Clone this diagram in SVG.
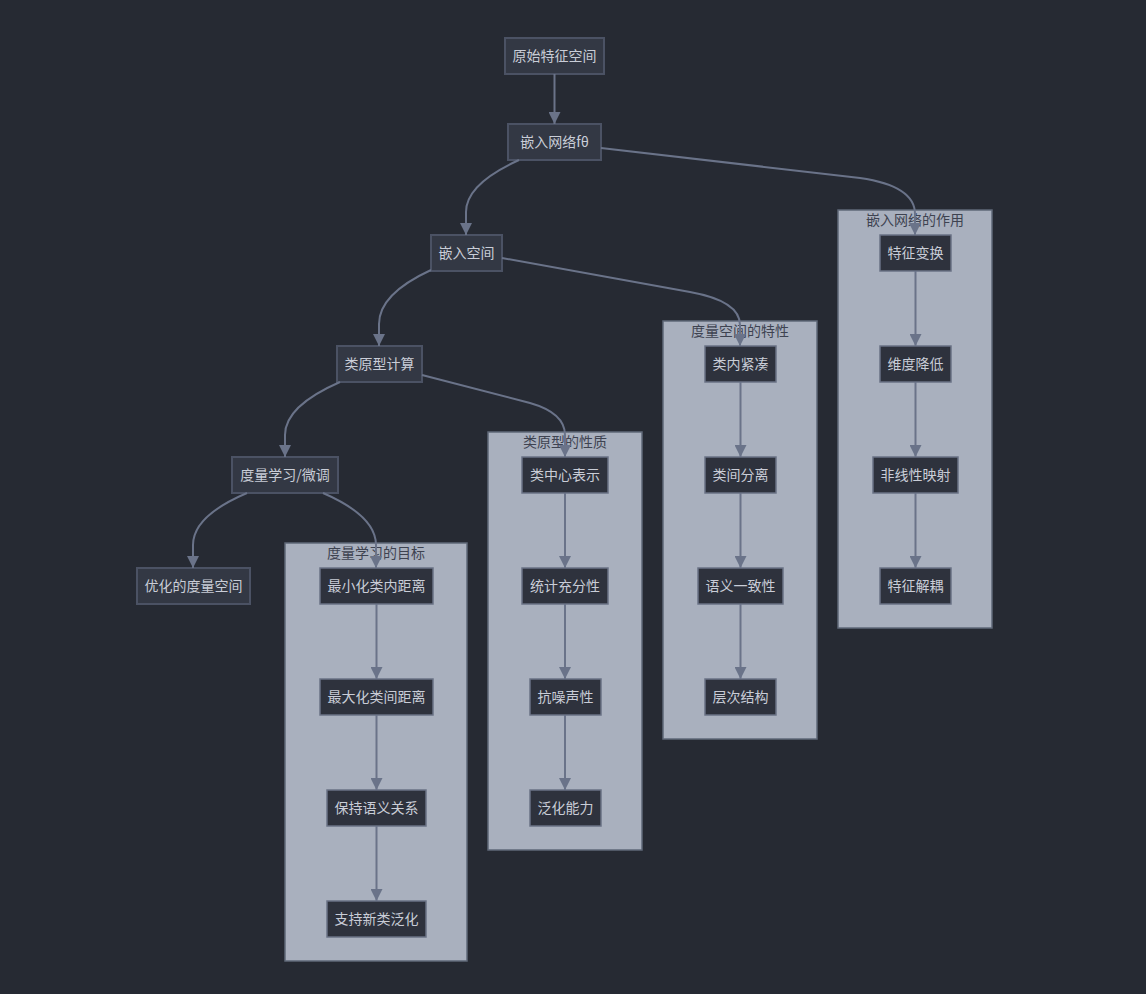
<svg xmlns="http://www.w3.org/2000/svg" width="1146" height="994" viewBox="0 0 1146 994">
<defs>
<style>
.bg{fill:#262a33}
.n rect{fill:#333844;stroke:#4b5264;stroke-width:2}
.s rect{fill:#2e323d;stroke:#6a7285;stroke-width:1.5}
.c rect{fill:#a9b0be;stroke:#5f6878;stroke-width:1.5}
text{font-family:"Noto Sans CJK SC","Noto Sans",sans-serif;font-size:14px;text-anchor:middle}
.n text,.s text{fill:#c9cdd7}
.c text{fill:#3e4351}
.e path{fill:none;stroke:#6a7389;stroke-width:2;marker-end:url(#a)}
</style>
<marker id="a" viewBox="0 0 12 12" refX="12" refY="6" markerWidth="12" markerHeight="12" markerUnits="userSpaceOnUse" orient="auto"><path d="M0,0 L12,6 L0,12 z" fill="#6a7389"/></marker>
</defs>
<rect class="bg" x="0" y="0" width="1146" height="994"/>

<g id="cluster-goal" class="c"><rect x="285" y="543" width="182" height="418"/><text x="376" y="558">度量学习的目标</text></g>
<g id="cluster-proto" class="c"><rect x="488" y="432" width="154" height="418"/><text x="565" y="447">类原型的性质</text></g>
<g id="cluster-metric" class="c"><rect x="663" y="321" width="154" height="418"/><text x="740" y="336">度量空间的特性</text></g>
<g id="cluster-embed" class="c"><rect x="838" y="210" width="154" height="418"/><text x="915" y="225">嵌入网络的作用</text></g>

<g id="n1" class="n"><rect x="505" y="38" width="99" height="36"/><text x="554.5" y="61">原始特征空间</text></g>
<g id="n2" class="n"><rect x="508" y="124" width="93" height="36"/><text x="554.5" y="147">嵌入网络fθ</text></g>
<g id="n3" class="n"><rect x="431" y="235" width="71" height="36"/><text x="466.5" y="258">嵌入空间</text></g>
<g id="n4" class="n"><rect x="337" y="346" width="85" height="36"/><text x="379.5" y="369">类原型计算</text></g>
<g id="n5" class="n"><rect x="232" y="457" width="106" height="36"/><text x="285" y="480">度量学习/微调</text></g>
<g id="n6" class="n"><rect x="137" y="568" width="113" height="36"/><text x="193.5" y="591">优化的度量空间</text></g>

<g id="g1" class="s"><rect x="320" y="568" width="113" height="36"/><text x="376.5" y="591">最小化类内距离</text></g>
<g id="g2" class="s"><rect x="320" y="679" width="113" height="36"/><text x="376.5" y="702">最大化类间距离</text></g>
<g id="g3" class="s"><rect x="327" y="790" width="99" height="36"/><text x="376.5" y="813">保持语义关系</text></g>
<g id="g4" class="s"><rect x="327" y="901" width="99" height="36"/><text x="376.5" y="924">支持新类泛化</text></g>

<g id="p1" class="s"><rect x="522" y="457" width="86" height="36"/><text x="565" y="480">类中心表示</text></g>
<g id="p2" class="s"><rect x="522" y="568" width="86" height="36"/><text x="565" y="591">统计充分性</text></g>
<g id="p3" class="s"><rect x="530" y="679" width="71" height="36"/><text x="565.5" y="702">抗噪声性</text></g>
<g id="p4" class="s"><rect x="530" y="790" width="71" height="36"/><text x="565.5" y="813">泛化能力</text></g>

<g id="m1" class="s"><rect x="705" y="346" width="71" height="36"/><text x="740.5" y="369">类内紧凑</text></g>
<g id="m2" class="s"><rect x="705" y="457" width="71" height="36"/><text x="740.5" y="480">类间分离</text></g>
<g id="m3" class="s"><rect x="698" y="568" width="85" height="36"/><text x="740.5" y="591">语义一致性</text></g>
<g id="m4" class="s"><rect x="705" y="679" width="71" height="36"/><text x="740.5" y="702">层次结构</text></g>

<g id="e1" class="s"><rect x="880" y="235" width="71" height="36"/><text x="915.5" y="258">特征变换</text></g>
<g id="e2" class="s"><rect x="880" y="346" width="71" height="36"/><text x="915.5" y="369">维度降低</text></g>
<g id="e3" class="s"><rect x="873" y="457" width="85" height="36"/><text x="915.5" y="480">非线性映射</text></g>
<g id="e4" class="s"><rect x="880" y="568" width="71" height="36"/><text x="915.5" y="591">特征解耦</text></g>

<g id="connectors" class="e">
<path d="M554.5,74 L554.5,124"/>
<path d="M519,160 Q466,184 466,212 L466,235"/>
<path d="M601,148 L860,178 Q915,186 915,214 L915,235"/>
<path d="M431,270 Q379,294 379,324 L379,346"/>
<path d="M502,258 L690,292 Q740,301 740,325 L740,346"/>
<path d="M340,382 Q285,406 285,435 L285,457"/>
<path d="M422,375 L530,403 Q565,413 565,435 L565,457"/>
<path d="M247,493 Q193,516 193,545 L193,568"/>
<path d="M323,493 Q376,516 376,545 L376,568"/>
<path d="M376.5,604 L376.5,679"/>
<path d="M376.5,715 L376.5,790"/>
<path d="M376.5,826 L376.5,901"/>
<path d="M565,493 L565,568"/>
<path d="M565,604 L565,679"/>
<path d="M565,715 L565,790"/>
<path d="M740.5,382 L740.5,457"/>
<path d="M740.5,493 L740.5,568"/>
<path d="M740.5,604 L740.5,679"/>
<path d="M915.5,271 L915.5,346"/>
<path d="M915.5,382 L915.5,457"/>
<path d="M915.5,493 L915.5,568"/>
</g>
</svg>
